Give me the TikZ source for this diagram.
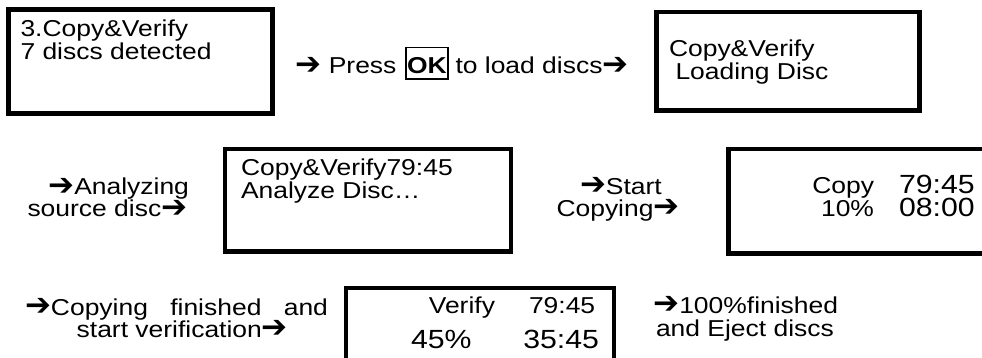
\documentclass[tikz,border=0pt]{standalone}
\usepackage{fontspec}
\setmainfont{Liberation Sans}[FakeStretch=1.15]
\newfontfamily\arrfont{DejaVu Sans}
\newcommand\arr{\raisebox{-0.5pt}[0pt][0pt]{\fontsize{31}{31}\arrfont ➔}}
\begin{document}
\begin{tikzpicture}[x=1pt,y=-1pt,
  font=\fontsize{23}{23}\selectfont,
  lcd/.style={draw, line width=4.2pt, inner sep=0pt, outer sep=0pt},
  txt/.style={inner sep=0pt, outer sep=0pt, anchor=base west},
  txte/.style={inner sep=0pt, outer sep=0pt, anchor=base east},
  big/.style={font=\fontsize{26.3}{26}\selectfont},
  okbox/.style={draw, line width=1.6pt, inner xsep=1pt, inner ysep=0pt,
    text height=26.5pt, text depth=5.3pt, anchor=base}]
\useasboundingbox (0,0) rectangle (982,358);
\clip (0,0) rectangle (982,358);
% boxes
\node[lcd, minimum width=264, minimum height=104] (b1) at (140.5,61.5) {};
\node[lcd, minimum width=263, minimum height=98.5] (b2) at (788,61.25) {};
\node[lcd, minimum width=286, minimum height=102.5] (b3) at (368,200.25) {};
\node[lcd, minimum width=281.5, minimum height=104.5] (b4) at (869.25,201.25) {};
\node[lcd, minimum width=268.2, minimum height=111.7] (b5) at (479.9,344.15) {};
% box 1
\node[txt] (t1a) at (20.5,36.7) {3.Copy\&Verify};
\node[txt] (t1b) at (20.5,59.3) {7 discs detected};
% label 1
\node[txt] (l1a) at (295.5,74) {\arr\ Press};
\node[okbox] (ok) at (427,74) {\bfseries OK};
\node[txt] (l1b) at (455.5,74) {to load discs\arr};
% box 2
\node[txt] (t2a) at (669,56.7) {Copy\&Verify};
\node[txt] (t2b) at (675.5,80) {Loading Disc};
% label 2
\node[txt] (l2a) at (48.3,195) {\arr Analyzing};
\node[txt] (l2b) at (27.5,216.7) {source disc\arr};
% box 3
\node[txt] (t3a) at (241,175.7) {Copy\&Verify79:45};
\node[txt] (t3b) at (241,198.3) {Analyze Disc…};
% label 3
\node[txt] (l3a) at (580,194) {\arr Start};
\node[txt] (l3b) at (556.5,216) {Copying\arr};
% box 4
\node[txte] (t4a) at (874,193.3) {Copy};
\node[txt, big] (t4b) at (899,193.3) {79:45};
\node[txte] (t4c) at (874,216.5) {10\%};
\node[txt, big] (t4d) at (899,216.5) {08:00};
% label 4
\node[txt] (l4a) at (25,315) {\makebox[303pt][s]{\arr Copying finished and}};
\node[txt] (l4b) at (76.7,337.3) {start verification\arr};
% box 5
\node[txte] (t5a) at (495,313.5) {Verify};
\node[txt] (t5b) at (529,313.5) {79:45};
\node[txt, big] (t5c) at (411,348.5) {45\%};
\node[txte, big] (t5d) at (599,348.5) {35:45};
% label 5
\node[txt] (l5a) at (653.3,313.3) {\arr 100\%finished};
\node[txt] (l5b) at (656,336) {and Eject discs};
\end{tikzpicture}
\end{document}
